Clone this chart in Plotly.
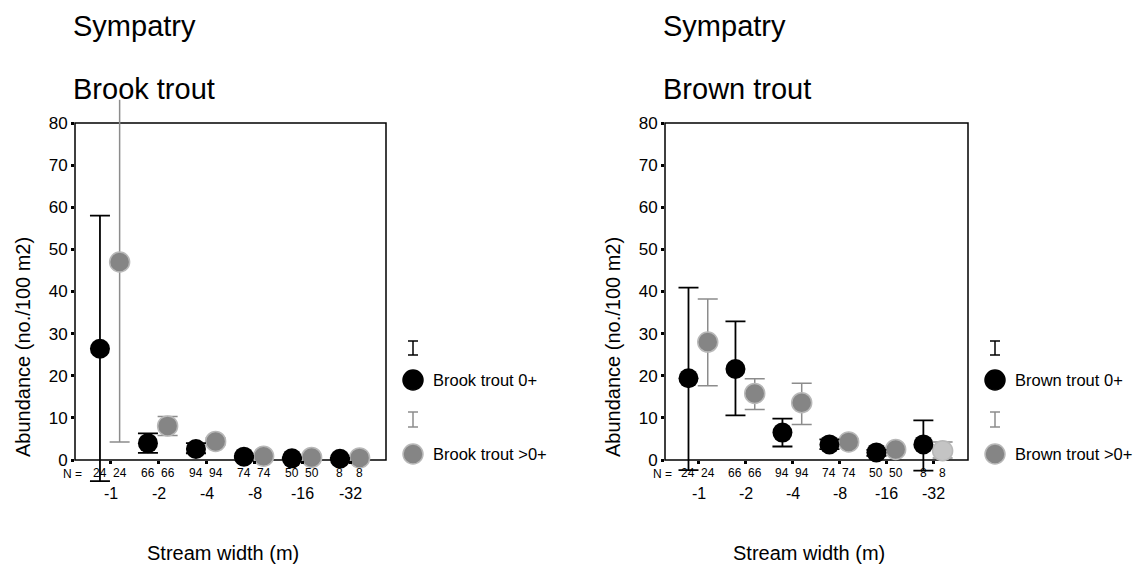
import plotly.graph_objects as go

categories = ["-1", "-2", "-4", "-8", "-16", "-32"]
n_counts = [24, 66, 94, 74, 50, 8]

# Brook trout (sympatry)
brook_0 = [26.4, 4.0, 2.6, 0.8, 0.4, 0.3]
brook_0_hi = [58.0, 6.3, 4.0, 1.0, 0.6, 0.5]
brook_0_lo = [-5.0, 1.7, 1.6, 0.5, 0.2, 0.1]
brook_gt0 = [47.0, 8.1, 4.4, 0.9, 0.6, 0.5]
brook_gt0_hi = [88.0, 10.3, 5.2, 1.2, 0.8, 0.7]
brook_gt0_lo = [4.3, 5.8, 3.6, 0.6, 0.4, 0.3]

# Brown trout (sympatry)
brown_0 = [19.4, 21.6, 6.5, 3.7, 1.8, 3.7]
brown_0_hi = [40.9, 32.9, 9.8, 4.9, 2.4, 9.4]
brown_0_lo = [-2.4, 10.6, 3.2, 2.6, 1.0, -2.5]
brown_gt0 = [28.0, 15.8, 13.6, 4.3, 2.5, 2.2]
brown_gt0_hi = [38.2, 19.3, 18.2, 5.0, 3.0, 4.3]
brown_gt0_lo = [17.6, 12.0, 8.4, 3.6, 2.0, 0.5]

y_ticks = [0, 10, 20, 30, 40, 50, 60, 70, 80]

W, H = 1142, 568
FONT = "Liberation Sans, Arial, sans-serif"
BLACK = "#000000"
GRAY = "#858585"
GRAY_EDGE = "#b8b8b8"
GRAY_ERR = "#8c8c8c"
OFF0, OFF1 = -0.22, 0.19

# frame (value 0 -> pixel 460, value 80 -> pixel 123); axis range extended so
# error bars that run past the frame stay visible, as in the reference
FRAME_TOP, FRAME_BOT = 123, 460
Y_LO, Y_HI = -7, 85.5
K = (FRAME_BOT - FRAME_TOP) / 80.0
DOM_BOT = FRAME_BOT - Y_LO * K
DOM_TOP = FRAME_BOT - Y_HI * K

pos = list(range(1, len(categories) + 1))


def px_x(v):
    return v / W


def px_y(v):
    return 1 - v / H


panels = [
    dict(xa="x", ya="y", dom=(75, 386), s0=(brook_0, brook_0_hi, brook_0_lo),
         s1=(brook_gt0, brook_gt0_hi, brook_gt0_lo), title="Brook trout",
         names=("Brook trout 0+", "Brook trout >0+"), gray_colors=[GRAY] * 6),
    dict(xa="x2", ya="y2", dom=(665, 968), s0=(brown_0, brown_0_hi, brown_0_lo),
         s1=(brown_gt0, brown_gt0_hi, brown_gt0_lo), title="Brown trout",
         names=("Brown trout 0+", "Brown trout >0+"), gray_colors=[GRAY] * 5 + ["#c4c4c4"]),
]

fig = go.Figure()
annotations = []
shapes = []

for p in panels:
    m0, h0, l0 = p["s0"]
    m1, h1, l1 = p["s1"]
    x0 = [c + OFF0 for c in pos]
    x1 = [c + OFF1 for c in pos]
    fig.add_trace(go.Scatter(
        x=x1, y=m1, mode="markers", xaxis=p["xa"], yaxis=p["ya"], cliponaxis=False,
        showlegend=False,
        marker=dict(size=20, color=p["gray_colors"], line=dict(color=GRAY_EDGE, width=1.5)),
        error_y=dict(type="data", symmetric=False,
                     array=[h - m for h, m in zip(h1, m1)],
                     arrayminus=[m - l for m, l in zip(m1, l1)],
                     color=GRAY_ERR, thickness=1.5, width=10),
    ))
    fig.add_trace(go.Scatter(
        x=x0, y=m0, mode="markers", xaxis=p["xa"], yaxis=p["ya"], cliponaxis=False,
        showlegend=False,
        marker=dict(size=20, color=BLACK, line=dict(color=BLACK, width=0)),
        error_y=dict(type="data", symmetric=False,
                     array=[h - m for h, m in zip(h0, m0)],
                     arrayminus=[m - l for m, l in zip(m0, l0)],
                     color=BLACK, thickness=1.8, width=10),
    ))

    left, right = p["dom"]
    xref = p["xa"]
    # frame
    shapes.append(dict(type="rect", xref="paper", yref="paper", layer="below",
                       x0=px_x(left), x1=px_x(right), y0=px_y(FRAME_BOT), y1=px_y(FRAME_TOP),
                       line=dict(color=BLACK, width=1.5), fillcolor="rgba(0,0,0,0)"))
    # N labels and category labels
    for i, c in enumerate(pos):
        for xx in (c + OFF0, c + OFF1):
            annotations.append(dict(x=xx, y=px_y(473), xref=xref, yref="paper",
                                    text=str(n_counts[i]), showarrow=False,
                                    font=dict(size=12, color=BLACK, family=FONT),
                                    xanchor="center", yanchor="middle"))
        annotations.append(dict(x=c, y=px_y(493), xref=xref, yref="paper",
                                text=categories[i], showarrow=False,
                                font=dict(size=16, color=BLACK, family=FONT),
                                xanchor="center", yanchor="middle"))
    annotations.append(dict(x=px_x(left - 3), y=px_y(474), xref="paper", yref="paper",
                            text="N =", showarrow=False,
                            font=dict(size=12, color=BLACK, family=FONT),
                            xanchor="center", yanchor="middle"))
    # titles
    annotations.append(dict(x=px_x(left - 4), y=px_y(26), xref="paper", yref="paper",
                            text="Sympatry", showarrow=False,
                            font=dict(size=29, color=BLACK, family=FONT),
                            xanchor="left", yanchor="middle"))
    annotations.append(dict(x=px_x(left - 4), y=px_y(89), xref="paper", yref="paper",
                            text=p["title"], showarrow=False,
                            font=dict(size=29, color=BLACK, family=FONT),
                            xanchor="left", yanchor="middle"))
    # axis titles
    annotations.append(dict(x=px_x(left - 52), y=px_y(347), xref="paper", yref="paper",
                            text="Abundance (no./100 m2)", showarrow=False, textangle=-90,
                            font=dict(size=20, color=BLACK, family=FONT),
                            xanchor="center", yanchor="middle"))
    annotations.append(dict(x=px_x((left + right) / 2 - 8), y=px_y(553), xref="paper", yref="paper",
                            text="Stream width (m)", showarrow=False,
                            font=dict(size=20, color=BLACK, family=FONT),
                            xanchor="center", yanchor="middle"))
    # legend
    lx = right + 27
    for (yt, yb, col) in ((341, 355, BLACK), (412, 427, GRAY_ERR)):
        shapes.append(dict(type="line", xref="paper", yref="paper",
                           x0=px_x(lx), x1=px_x(lx), y0=px_y(yt), y1=px_y(yb),
                           line=dict(color=col, width=1.5)))
        for yy in (yt, yb):
            shapes.append(dict(type="line", xref="paper", yref="paper",
                               x0=px_x(lx - 5), x1=px_x(lx + 5), y0=px_y(yy), y1=px_y(yy),
                               line=dict(color=col, width=1.5)))
    for (cy, fill, edge, name) in ((380, BLACK, BLACK, p["names"][0]),
                                   (454, GRAY, GRAY_EDGE, p["names"][1])):
        shapes.append(dict(type="circle", xref="paper", yref="paper",
                           x0=px_x(lx - 10), x1=px_x(lx + 10), y0=px_y(cy + 10), y1=px_y(cy - 10),
                           fillcolor=fill, line=dict(color=edge, width=1.5)))
        annotations.append(dict(x=px_x(lx + 18), y=px_y(cy), xref="paper", yref="paper",
                                text=name, showarrow=False,
                                font=dict(size=16.5, color=BLACK, family=FONT),
                                xanchor="left", yanchor="middle"))

axis_common = dict(showline=False, showgrid=False, zeroline=False, ticks="outside",
                   ticklen=3, tickwidth=3, tickcolor=BLACK)

y_dom = [px_y(DOM_BOT), px_y(DOM_TOP)]
fig.update_layout(
    width=W, height=H, margin=dict(l=0, r=0, t=0, b=0),
    paper_bgcolor="white", plot_bgcolor="rgba(0,0,0,0)",
    font=dict(family=FONT, color=BLACK),
    showlegend=False,
    xaxis=dict(domain=[px_x(75), px_x(386)], range=[0.26, 6.74], tickvals=pos,
               showticklabels=False, anchor="free", position=px_y(FRAME_BOT), **axis_common),
    yaxis=dict(domain=y_dom, range=[Y_LO, Y_HI], tickvals=y_ticks,
               tickfont=dict(size=17, family=FONT, color=BLACK), anchor="x", **axis_common),
    xaxis2=dict(domain=[px_x(665), px_x(968)], range=[0.28, 6.73], tickvals=pos,
                showticklabels=False, anchor="free", position=px_y(FRAME_BOT), **axis_common),
    yaxis2=dict(domain=y_dom, range=[Y_LO, Y_HI], tickvals=y_ticks,
                tickfont=dict(size=17, family=FONT, color=BLACK), anchor="x2", **axis_common),
    annotations=annotations,
    shapes=shapes,
)

fig.write_html("out.html")
